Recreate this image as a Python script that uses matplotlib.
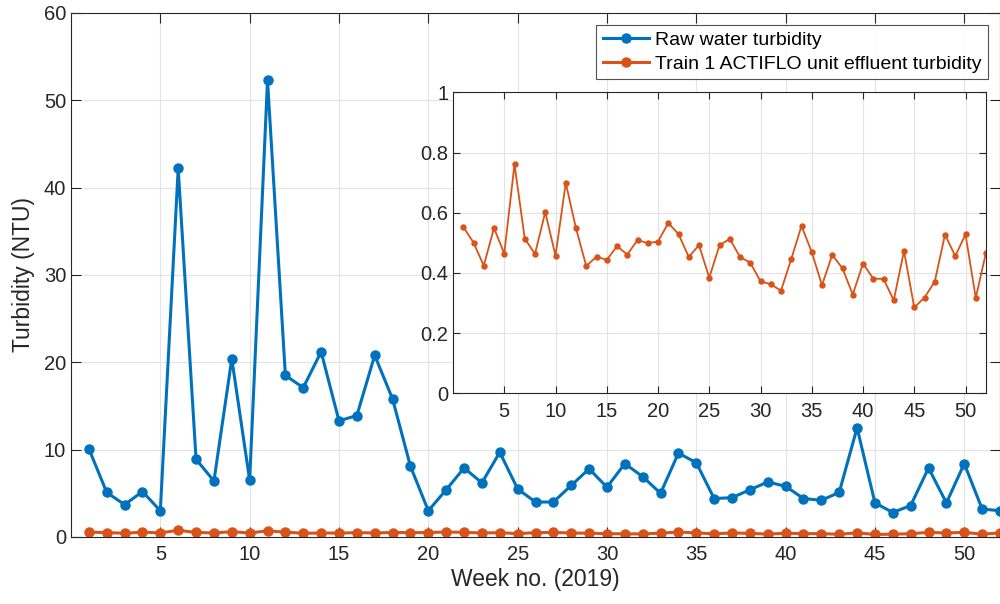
import numpy as np
import matplotlib
matplotlib.use("Agg")
from matplotlib import pyplot as plt

weeks = list(range(1, 53))

raw_turbidity = [10.1, 5.1, 3.7, 5.2, 3.0, 42.2, 8.9, 6.4, 20.4, 6.5,
                 52.3, 18.5, 17.1, 21.2, 13.3, 13.9, 20.8, 15.8, 8.1, 3.0,
                 5.4, 7.9, 6.2, 9.7, 5.5, 4.0, 4.0, 5.9, 7.8, 5.7,
                 8.4, 6.9, 5.0, 9.6, 8.5, 4.4, 4.5, 5.4, 6.3, 5.8,
                 4.4, 4.2, 5.1, 12.5, 3.9, 2.8, 3.6, 7.9, 3.9, 8.4,
                 3.2, 3.0]

effluent_turbidity = [0.553, 0.501, 0.424, 0.549, 0.464, 0.761, 0.514, 0.463, 0.602, 0.457,
                      0.699, 0.548, 0.423, 0.454, 0.443, 0.489, 0.461, 0.509, 0.499, 0.504,
                      0.566, 0.529, 0.453, 0.492, 0.384, 0.492, 0.513, 0.453, 0.434, 0.372,
                      0.362, 0.341, 0.446, 0.556, 0.469, 0.359, 0.460, 0.415, 0.328, 0.431,
                      0.381, 0.380, 0.309, 0.473, 0.285, 0.318, 0.371, 0.527, 0.456, 0.528,
                      0.317, 0.467]

x_ticks = [5, 10, 15, 20, 25, 30, 35, 40, 45, 50]
main_y_ticks = [0, 10, 20, 30, 40, 50, 60]
inset_y_ticks = [0, 0.2, 0.4, 0.6, 0.8, 1]
inset_y_labels = ["0", "0.2", "0.4", "0.6", "0.8", "1"]

blue = "#0072BD"
orange = "#D95319"
axis_col = "#262626"

plt.rcParams['font.family'] = ['Liberation Sans', 'DejaVu Sans']


def matlab_style(ax, size):
    ax.grid(True, color="#e3e3e3", linewidth=0.8)
    ax.set_axisbelow(True)
    for s in ax.spines.values():
        s.set_color(axis_col)
        s.set_linewidth(0.8)
    ax.tick_params(direction="in", top=True, right=True, colors=axis_col,
                   labelsize=size, length=7, width=0.8)


fig = plt.figure(figsize=(10, 6.04), dpi=100)
ax = fig.add_axes([0.071, 0.111, 0.929, 0.8675])
ax.plot(weeks, raw_turbidity, "-o", color=blue, lw=2.2, ms=6.5,
        label="Raw water turbidity")
ax.plot(weeks, effluent_turbidity, "-o", color=orange, lw=2.2, ms=6.5,
        label="Train 1 ACTIFLO unit effluent turbidity")
ax.set_xlim(0, 52)
ax.set_ylim(0, 60)
ax.set_xticks(x_ticks)
ax.set_yticks(main_y_ticks)
matlab_style(ax, 14.5)
ax.tick_params(axis="x", pad=6)
ax.set_xlabel("Week no. (2019)", fontsize=16.5, color=axis_col, labelpad=3)
ax.set_ylabel("Turbidity (NTU)", fontsize=16.5, color=axis_col, labelpad=6)
leg = ax.legend(loc="upper right", fontsize=14, frameon=True, fancybox=False,
                edgecolor=axis_col, handlelength=2.4, borderaxespad=0.6,
                borderpad=0.35, labelspacing=0.3, handletextpad=0.3)
leg.get_frame().set_linewidth(0.8)

ins = fig.add_axes([0.453, 0.349, 0.533, 0.498])
ins.plot(weeks, effluent_turbidity, "-o", color=orange, lw=1.3, ms=3.6)
ins.set_xlim(0, 52)
ins.set_ylim(0, 1)
ins.set_xticks(x_ticks)
ins.set_yticks(inset_y_ticks)
ins.set_yticklabels(inset_y_labels)
matlab_style(ins, 14.5)
ins.tick_params(length=5)
ins.tick_params(axis="x", pad=6)

fig.savefig("out.png", dpi=100)
